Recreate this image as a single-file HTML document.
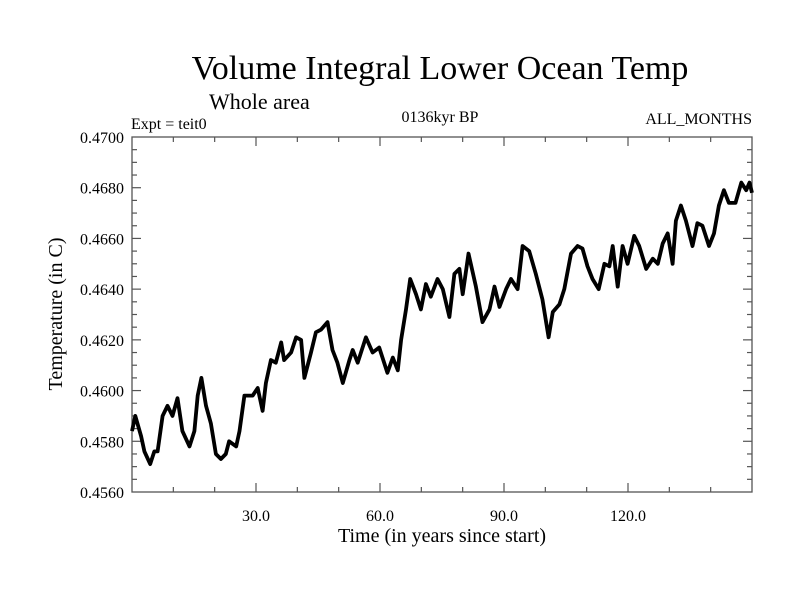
<!DOCTYPE html>
<html><head><meta charset="utf-8"><style>
body{margin:0;background:#fff}
svg text{font-family:"Liberation Serif",serif;fill:#000}
</style></head><body>
<svg id="chart" width="800" height="600" viewBox="0 0 800 600">
<text x="440" y="79" font-size="34" text-anchor="middle">Volume Integral Lower Ocean Temp</text>
<text x="209" y="109" font-size="22">Whole area</text>
<text x="131" y="129" font-size="16">Expt = teit0</text>
<text x="440" y="122" font-size="16" text-anchor="middle">0136kyr BP</text>
<text x="752" y="124" font-size="16" text-anchor="end">ALL_MONTHS</text>
<text x="442" y="542" font-size="20" text-anchor="middle">Time (in years since start)</text>
<text transform="translate(62,314) rotate(-90)" font-size="20" text-anchor="middle">Temperature (in C)</text>
<g id="axes"></g>
<path id="series" fill="none" stroke="#000" stroke-width="3.8" stroke-linejoin="round"/>
</svg>
<script>
const times=[0,0.8,2.2,3.0,4.4,5.4,6.2,7.4,8.6,9.8,11.0,12.2,13.9,15.1,15.9,16.8,17.9,19.1,20.3,21.5,22.7,23.5,25.2,26.0,27.2,29.2,30.4,31.6,32.4,33.6,34.8,36.1,36.8,38.5,39.7,40.9,41.7,43.3,44.5,45.7,47.3,48.5,49.7,51.0,52.6,53.4,54.6,56.6,58.2,59.8,61.8,63.1,64.3,65.1,66.3,67.3,68.7,69.9,71.1,72.3,73.9,75.2,76.8,78.0,79.2,80.0,81.4,83.2,84.8,86.5,87.7,88.9,90.5,91.7,93.3,94.5,96.1,97.7,99.3,100.8,101.8,103.4,104.6,106.2,107.8,109.0,110.2,111.4,112.9,114.3,115.5,116.3,117.5,118.7,119.9,121.5,122.7,124.4,126.0,127.2,128.4,129.6,130.8,131.6,132.8,134.0,135.6,136.8,138.0,139.6,140.8,142.0,143.2,144.4,146.0,147.4,148.6,149.4,150];
const temps=[0.4584,0.4590,0.4582,0.4576,0.4571,0.4576,0.4576,0.4590,0.4594,0.4590,0.4597,0.4584,0.4578,0.4584,0.4598,0.4605,0.4594,0.4587,0.4575,0.4573,0.4575,0.4580,0.4578,0.4584,0.4598,0.4598,0.4601,0.4592,0.4603,0.4612,0.4611,0.4619,0.4612,0.4615,0.4621,0.4620,0.4605,0.4615,0.4623,0.4624,0.4627,0.4616,0.4611,0.4603,0.4612,0.4616,0.4611,0.4621,0.4615,0.4617,0.4607,0.4613,0.4608,0.4620,0.4632,0.4644,0.4638,0.4632,0.4642,0.4637,0.4644,0.4640,0.4629,0.4646,0.4648,0.4638,0.4654,0.4641,0.4627,0.4632,0.4641,0.4633,0.4640,0.4644,0.4640,0.4657,0.4655,0.4646,0.4636,0.4621,0.4631,0.4634,0.4640,0.4654,0.4657,0.4656,0.4649,0.4644,0.4640,0.4650,0.4649,0.4657,0.4641,0.4657,0.4650,0.4661,0.4657,0.4648,0.4652,0.4650,0.4658,0.4662,0.4650,0.4667,0.4673,0.4667,0.4657,0.4666,0.4665,0.4657,0.4662,0.4673,0.4679,0.4674,0.4674,0.4682,0.4679,0.4682,0.4678];
const xTickLabels=["30.0","60.0","90.0","120.0"];
const xTickValues=[30,60,90,120];
const yTickLabels=["0.4560","0.4580","0.4600","0.4620","0.4640","0.4660","0.4680","0.4700"];
const yTickValues=[0.456,0.458,0.460,0.462,0.464,0.466,0.468,0.470];
const X0=132,X1=752,Y0=492,Y1=137;
const xMin=0,xMax=150,yMin=0.456,yMax=0.470;
function sx(t){return X0+(t-xMin)/(xMax-xMin)*(X1-X0);}
function sy(v){return Y0-(v-yMin)/(yMax-yMin)*(Y0-Y1);}
const NS="http://www.w3.org/2000/svg";
const g=document.getElementById('axes');
function el(tag,attrs){const e=document.createElementNS(NS,tag);for(const k in attrs)e.setAttribute(k,attrs[k]);g.appendChild(e);return e;}
const frame=el('rect',{x:X0,y:Y1,width:X1-X0,height:Y0-Y1,fill:'none',stroke:'#555','stroke-width':1.3});


for(let t=10;t<xMax;t+=10){
  const major=t%30===0,L=major?9:5,x=sx(t);
  const a=el('line',{x1:x,x2:x,y1:Y0,y2:Y0-L,stroke:'#555','stroke-width':1.2});
  
  
  const b=el('line',{x1:x,x2:x,y1:Y1,y2:Y1+L,stroke:'#555','stroke-width':1.2});
  
  
}
for(let i=1;i<28;i++){
  const v=yMin+i*0.0005;
  const major=i%4===0,L=major?9:5,y=sy(v);
  const a=el('line',{x1:X0,x2:X0+L,y1:y,y2:y,stroke:'#555','stroke-width':1.2});
  
  
  const b=el('line',{x1:X1,x2:X1-L,y1:y,y2:y,stroke:'#555','stroke-width':1.2});
  
  
}
xTickLabels.forEach((s,i)=>{
  const t=el('text',{x:sx(xTickValues[i]),y:521,'font-size':16,'text-anchor':'middle'});
  t.textContent=s;
  
  
});
yTickLabels.forEach((s,i)=>{
  const t=el('text',{x:124,y:sy(yTickValues[i])+6,'font-size':16,'text-anchor':'end'});
  t.textContent=s;
  
  
});
let d='';
times.forEach((t,i)=>{d+=(i?'L':'M')+sx(t).toFixed(1)+','+sy(temps[i]).toFixed(1);});
document.getElementById('series').setAttribute('d',d);
</script>
</body></html>
